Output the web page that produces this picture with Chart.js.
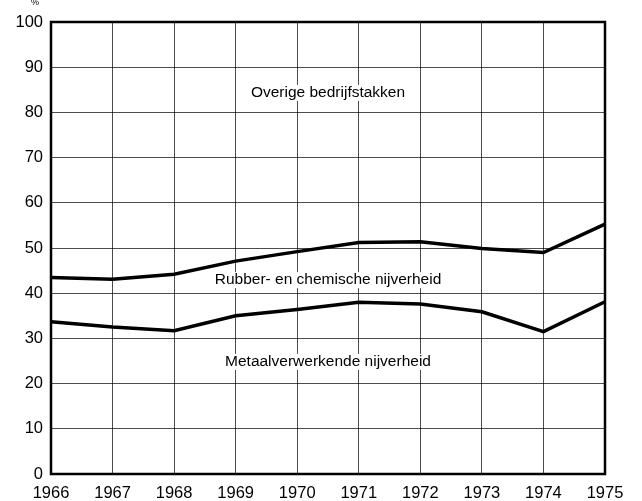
<!DOCTYPE html>
<html>
<head>
<meta charset="utf-8">
<script src="https://cdn.jsdelivr.net/npm/chart.js@4/dist/chart.umd.min.js"></script>
<style>
  html, body { margin: 0; padding: 0; background: #fff; }
  #wrap { width: 642px; height: 501px; position: relative; }
</style>
</head>
<body>
<div id="wrap"><canvas id="lineChart"></canvas></div>
<script>
// years on the x axis
const years = ["1966", "1967", "1968", "1969", "1970", "1971", "1972", "1973", "1974", "1975"];
// cumulative share (%) - upper line: metaal + rubber/chemie
const upperLine = [43.5, 43.1, 44.2, 47.1, 49.2, 51.2, 51.4, 49.9, 49.0, 55.3];
// lower line: metaalverwerkende nijverheid
const lowerLine = [33.7, 32.5, 31.7, 35.0, 36.4, 38.0, 37.6, 35.9, 31.5, 38.1];
const yTicks = [0, 10, 20, 30, 40, 50, 60, 70, 80, 90, 100];

// band labels inside the plot
const bandNames = ["Overige bedrijfstakken", "Rubber- en chemische nijverheid", "Metaalverwerkende nijverheid"];
const bandAt = [84.3, 42.9, 24.8];

const labelsPlugin = {
  id: "bandLabels",
  afterDatasetsDraw(chart) {
    const { ctx, chartArea, scales } = chart;
    ctx.save();
    // frame round the plot
    ctx.strokeStyle = "#000";
    ctx.lineWidth = 2.5;
    ctx.strokeRect(chartArea.left, chartArea.top, chartArea.right - chartArea.left, chartArea.bottom - chartArea.top);
    ctx.fillStyle = "#000";
    ctx.font = "15.5px 'Liberation Sans', Arial, sans-serif";
    ctx.textAlign = "center";
    ctx.textBaseline = "middle";
    const cx = (scales.x.getPixelForValue(4) + scales.x.getPixelForValue(5)) / 2;
    bandNames.forEach((name, i) => {
      const y = scales.y.getPixelForValue(bandAt[i]);
      ctx.fillStyle = "#fff";
      const w = ctx.measureText(name).width;
      ctx.fillRect(cx - w / 2 - 3, y - 8, w + 6, 16);
      ctx.fillStyle = "#000";
      ctx.fillText(name, cx, y);
    });
    ctx.font = "9px 'Liberation Sans', Arial, sans-serif";
    ctx.fillText("%", 35, 3);
    ctx.restore();
  }
};

const ctx = document.getElementById("lineChart").getContext("2d");
new Chart(ctx, {
  type: "line",
  data: {
    labels: years,
    datasets: [
      {
        data: upperLine,
        borderColor: "#000",
        borderWidth: 3.5,
        pointRadius: 0,
        tension: 0,
      },
      {
        data: lowerLine,
        borderColor: "#000",
        borderWidth: 3.5,
        pointRadius: 0,
        tension: 0,
      },
    ],
  },
  options: {
    responsive: true,
    maintainAspectRatio: false,
    animation: false,
    layout: { padding: { left: 0, right: 37, top: 22, bottom: 0 } },
    plugins: {
      legend: { display: false },
      tooltip: { enabled: false },
    },
    scales: {
      x: {
        offset: false,
        afterFit: (s) => { s.height = 27; },
        grid: { color: "rgba(0,0,0,0.7)", lineWidth: 1, drawTicks: false },
        border: { display: false },
        ticks: {
          color: "#000",
          padding: 10,
          maxRotation: 0,
          autoSkip: false,
          font: { family: "'Liberation Sans', Arial, sans-serif", size: 16.5 },
        },
      },
      y: {
        min: 0,
        max: 100,
        afterFit: (s) => { s.width = 51; },
        afterBuildTicks: (s) => { s.ticks = yTicks.map((v) => ({ value: v })); },
        grid: { color: "rgba(0,0,0,0.7)", lineWidth: 1, drawTicks: false },
        border: { display: false },
        ticks: {
          color: "#000",
          padding: 8,
          font: { family: "'Liberation Sans', Arial, sans-serif", size: 16.5 },
        },
      },
    },
  },
  plugins: [labelsPlugin],
});
</script>
</body>
</html>
